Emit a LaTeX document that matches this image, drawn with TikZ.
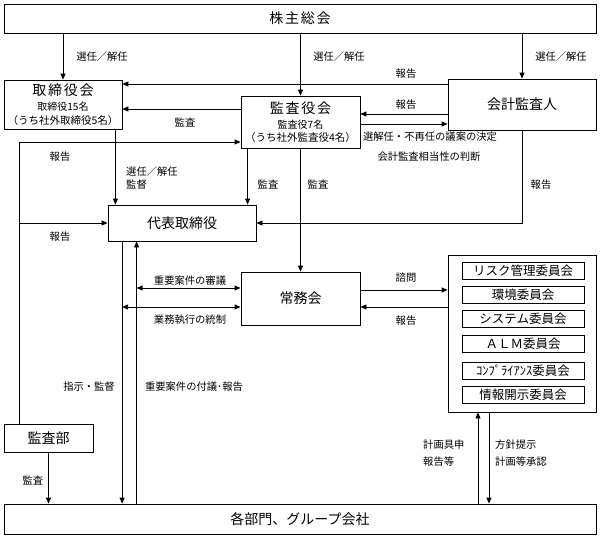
\documentclass[tikz,border=0pt]{standalone}
\usepackage{fontspec}
\setmainfont{Noto Sans CJK JP}
\newfontfamily\jpwide[LetterSpace=12]{Noto Sans CJK JP}
\usetikzlibrary{arrows.meta}
\begin{document}
\begin{tikzpicture}[x=1pt,y=-1pt,
  box/.style={draw, line width=0.8pt, inner sep=0pt, align=center},
  ttl/.style={font=\fontsize{14}{16}\selectfont},
  cbox/.style={draw, line width=0.8pt, inner sep=0pt, minimum width=122pt, minimum height=17pt, font=\fontsize{12.5}{14}\selectfont},
  lbl/.style={font=\fontsize{10.3}{13}\selectfont, inner sep=0pt, align=left},
  arr/.style={line width=0.8pt, -{Triangle[length=6pt,width=5pt]}},
  darr/.style={line width=0.8pt, {Triangle[length=6pt,width=5pt]}-{Triangle[length=6pt,width=5pt]}},
]
\useasboundingbox (0,0) rectangle (600,538);

% boxes
\node[box, minimum width=592pt, minimum height=29pt, font=\jpwide\fontsize{14}{16}\selectfont] (top) at (300,18.5) {株主総会};
\node[box, minimum width=118pt, minimum height=49pt] (tb) at (63,104.5)
  {{\jpwide\fontsize{14}{16}\selectfont 取締役会}\\[3pt]{\fontsize{10}{14}\selectfont 取締役15名}\\[1.5pt]{\fontsize{10.5}{14}\selectfont （うち社外取締役5名）}};
\node[box, minimum width=119pt, minimum height=52pt] (kb) at (300.5,122)
  {{\jpwide\fontsize{14}{16}\selectfont 監査役会}\\[3pt]{\fontsize{10}{14}\selectfont 監査役7名}\\[1.5pt]{\fontsize{10.5}{14}\selectfont （うち社外監査役4名）}};
\node[box, ttl, minimum width=148pt, minimum height=51pt] (kk) at (522,104.5) {会計監査人};
\node[box, ttl, minimum width=148pt, minimum height=36pt] (dh) at (182,223) {代表取締役};
\node[box, ttl, minimum width=119pt, minimum height=53pt] (jm) at (300.5,298.5) {常務会};
\node[box, minimum width=148pt, minimum height=157pt] (cm) at (522,333.5) {};
\node[cbox] (c1) at (523,270.5) {リスク管理委員会};
\node[cbox] (c2) at (523,294.5) {環境委員会};
\node[cbox] (c3) at (523,319) {システム委員会};
\node[cbox] (c4) at (523,344) {ＡＬＭ委員会};
\node[cbox] (c5) at (523,371) {ｺﾝﾌﾟﾗｲｱﾝｽ委員会};
\node[cbox] (c6) at (523,395) {情報開示委員会};
\node[box, ttl, minimum width=89pt, minimum height=28pt] (kb2) at (48.5,438) {監査部};
\node[box, ttl, minimum width=592pt, minimum height=30pt] (bt) at (300,519) {各部門、グループ会社};

% connectors from top
\draw[arr] (top.south -| tb.north) -- (tb.north);
\draw[arr] (top.south -| kb.north) -- (kb.north);
\draw[arr] (top.south -| kk.north) -- (kk.north);

% horizontal links upper
\coordinate (k1) at ([yshift=20.5pt]kk.west);
\draw[arr] (k1) -- (k1 -| tb.east);
\coordinate (k2) at ([yshift=13pt]kb.west);
\draw[arr] (k2) -- (k2 -| tb.east);
\coordinate (k3) at ([yshift=-9.5pt]kk.west);
\draw[arr] (k3) -- (k3 -| kb.east);
\coordinate (k4) at ([yshift=-2pt]kb.east);
\draw[arr] (k4) -- (k4 -| kk.west);
\draw[arr] (kk.south) |- (dh.east);

% left feedback line from audit dept
\coordinate (lf) at ([xshift=-29.5pt]kb2.north);
\draw[arr] (lf) |- ([yshift=-20pt]kb.west);
\draw[arr] (lf |- dh.west) -- (dh.west);

% down to representative director
\coordinate (a1) at ([xshift=-7pt]tb.south east);
\draw[arr] (a1) -- (a1 |- dh.north);
\coordinate (a2) at ([xshift=7pt]kb.south west);
\draw[arr] (a2) -- (a2 |- dh.north);
\draw[arr] (kb.south) -- (jm.north);

% representative director <-> departments
\coordinate (a3) at ([xshift=14.5pt]dh.south west);
\draw[arr] (a3) -- (a3 |- bt.north);
\coordinate (a4) at ([xshift=29pt]dh.south west);
\draw[arr] (a4 |- bt.north) -- (a4);
\coordinate (j1) at ([yshift=10.5pt]jm.west);
\draw[darr] (j1 -| a4) -- (j1);
\coordinate (j2) at ([yshift=-8.5pt]jm.west);
\draw[darr] (j2 -| a3) -- (j2);

% executive committee <-> committees
\coordinate (j3) at ([yshift=8.5pt]jm.east);
\draw[arr] (j3) -- (j3 -| cm.west);
\coordinate (j4) at ([yshift=-8.5pt]jm.east);
\draw[arr] (j4 -| cm.west) -- (j4);

% committees <-> departments
\coordinate (q1) at ([xshift=-44pt]cm.south);
\draw[arr] (q1 |- bt.north) -- (q1);
\coordinate (q2) at ([xshift=-33pt]cm.south);
\draw[arr] (q2) -- (q2 |- bt.north);

% audit dept -> departments
\draw[arr] (kb2.south) -- (kb2.south |- bt.north);

% labels
\node[lbl] (l1) at (102,57) {選任／解任};
\node[lbl] (l2) at (339,57) {選任／解任};
\node[lbl] (l3) at (561,57) {選任／解任};
\node[lbl] (l4) at (406,74) {報告};
\node[lbl] (l5) at (406,105) {報告};
\node[lbl] (l6) at (185,122) {監査};
\node[lbl] (l7) at (430,137) {選解任・不再任の議案の決定};
\node[lbl] (l8) at (429,157) {会計監査相当性の判断};
\node[lbl] (l9) at (60,157) {報告};
\node[lbl, anchor=west] (l10) at (126,178) {選任／解任\\監督};
\node[lbl] (l11) at (268,184) {監査};
\node[lbl] (l12) at (318,184) {監査};
\node[lbl] (l13) at (541,185) {報告};
\node[lbl] (l14) at (60,237) {報告};
\node[lbl] (l15) at (190,281) {重要案件の審議};
\node[lbl] (l16) at (190,320) {業務執行の統制};
\node[lbl] (l17) at (406,278) {諮問};
\node[lbl] (l18) at (406,321) {報告};
\node[lbl] (l19) at (89,387) {指示・監督};
\node[lbl] (l20) at (194,387) {重要案件の付議･報告};
\node[lbl] (l21) at (33,480) {監査};
\node[lbl, anchor=west] (l22) at (423,453.5) {計画具申\\[4pt]報告等};
\node[lbl, anchor=west] (l23) at (495,453.5) {方針提示\\[4pt]計画等承認};
\end{tikzpicture}
\end{document}
